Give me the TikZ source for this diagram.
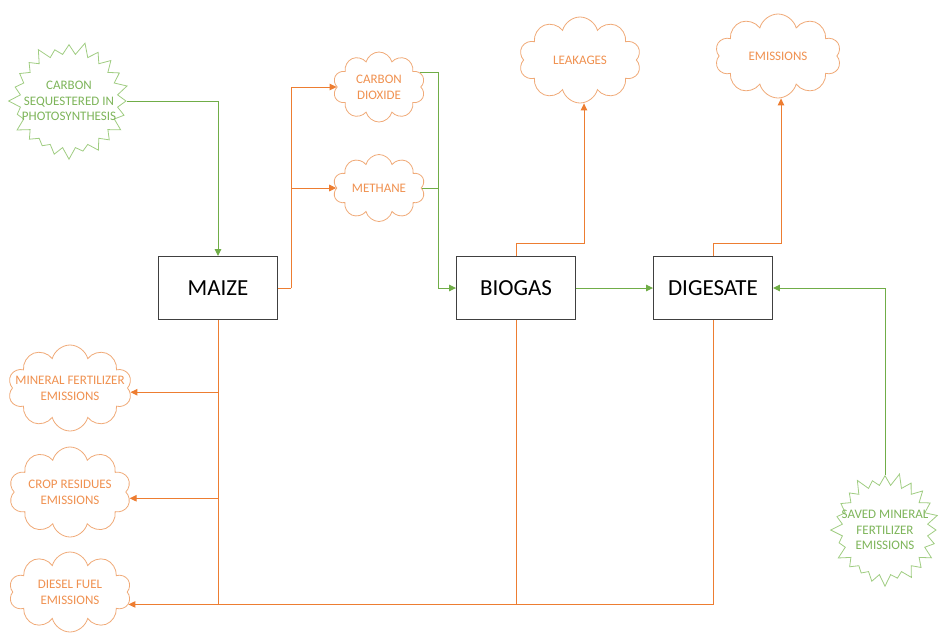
\documentclass[tikz,border=0pt]{standalone}
\usepackage{fontspec}
\setmainfont{Carlito}
\usepackage{tikz}
\usetikzlibrary{shapes.symbols, arrows.meta, calc}
\definecolor{orng}{RGB}{237,125,49}
\definecolor{lorng}{RGB}{240,170,120}
\definecolor{grn}{RGB}{112,173,71}
\definecolor{lgrn}{RGB}{160,205,130}
\tikzset{
  box/.style   ={rectangle, draw=black!75, line width=0.9pt, fill=white,
                 minimum width=119pt, minimum height=63pt,
                 font=\fontsize{23}{27}\selectfont},
  puff/.style  ={cloud, cloud puffs=10, cloud ignores aspect, draw=lorng,
                 line width=0.8pt, fill=white, text=orng!85, align=center,
                 font=\fontsize{13}{16}\selectfont, inner xsep=-30pt, inner ysep=-15pt},
  burst/.style ={starburst, starburst points=24, starburst point height=13pt,
                 draw=lgrn, line width=0.8pt, fill=white, text=grn!90,
                 align=center, font=\fontsize{13}{15.5}\selectfont,
                 inner xsep=-30pt, inner ysep=-15pt},
  lno/.style   ={draw=orng, line width=1pt},
  lng/.style   ={draw=grn, line width=1pt},
  aro/.style   ={lno, -{Triangle[length=7pt,width=6.5pt]}},
  arg/.style   ={lng, -{Triangle[length=7pt,width=6.5pt]}},
}
\begin{document}
\begin{tikzpicture}[x=1pt,y=-1pt]
\useasboundingbox (0,0) rectangle (942,638);
\node[box] (maize)    at (218,288) {MAIZE};
\node[box] (biogas)   at (516,288) {BIOGAS};
\node[box] (digesate) at (713,288) {DIGESATE};
\node[puff, minimum width=92pt, minimum height=70pt]  (co2)  at (379,87)  {CARBON\\DIOXIDE};
\node[puff, minimum width=92pt, minimum height=67pt]  (ch4)  at (379,188) {METHANE};
\node[puff, minimum width=122pt, minimum height=86pt] (leak) at (580,60)  {LEAKAGES};
\node[puff, minimum width=126pt, minimum height=84pt] (emis) at (778,56)  {EMISSIONS};
\node[puff, minimum width=124pt, minimum height=86pt] (minfert) at (70,388) {MINERAL FERTILIZER\\EMISSIONS};
\node[puff, minimum width=122pt, minimum height=90pt] (cropres) at (70,492) {CROP RESIDUES\\EMISSIONS};
\node[puff, minimum width=122pt, minimum height=80pt] (diesel)  at (70,592) {DIESEL FUEL\\EMISSIONS};
\node[burst, minimum width=124pt, minimum height=120pt] (seq)   at (69,101)  {CARBON\\SEQUESTERED IN\\PHOTOSYNTHESIS};
\node[burst, minimum width=112pt, minimum height=116pt] (saved) at (885,530) {SAVED MINERAL\\FERTILIZER\\EMISSIONS};
\coordinate (mj) at (291,288);
\coordinate (gj) at (438,288);
\draw[arg] (seq.east) -| (maize.north);
\draw[lno] (maize.east) -- (mj);
\draw[aro] (mj) |- (co2.west);
\draw[aro] (mj) |- (ch4.west);
\draw[lng] (co2.20) -| (gj);
\draw[lng] (ch4.east) -| (gj);
\draw[arg] (gj) -- (biogas.west);
\draw[arg] (biogas) -- (digesate);
\draw[arg] (saved.north) |- (digesate.east);
\draw[aro] (biogas.north) -- ++(0,-13) -| ($(leak.south)+(4,0)$);
\draw[aro] (digesate.north) -- ++(0,-13) -| ($(emis.south)+(3,0)$);
\draw[aro] (maize.south) |- (minfert.-4);
\draw[aro] (maize.south) |- (cropres.-6);
\draw[aro] (maize.south) |- (diesel.-12);
\draw[lno] (biogas.south) -- (biogas.south |- diesel.-12);
\draw[lno] (digesate.south) |- (maize.south |- diesel.-12);
\end{tikzpicture}
\end{document}
